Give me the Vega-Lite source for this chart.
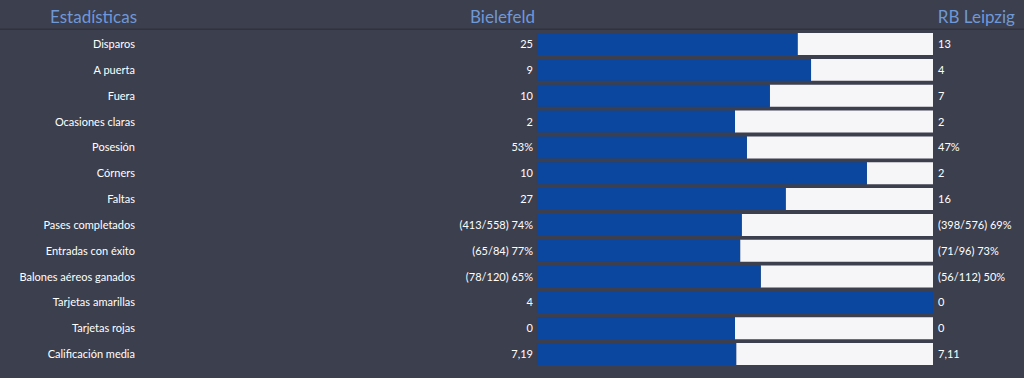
{
  "$schema": "https://vega.github.io/schema/vega-lite/v6.json",
  "width": 1024,
  "height": 378,
  "padding": 0,
  "autosize": {"type": "none"},
  "background": "#3c3f4e",
  "config": {"view": {"stroke": null}, "text": {"font": "Lato"}},
  "data": {
    "values": [
      {"stat": "Estadísticas", "home": "Bielefeld", "away": "RB Leipzig", "share": null, "header": true},
      {"stat": "Disparos", "home": "25", "away": "13", "share": 0.658, "header": false},
      {"stat": "A puerta", "home": "9", "away": "4", "share": 0.692, "header": false},
      {"stat": "Fuera", "home": "10", "away": "7", "share": 0.588, "header": false},
      {"stat": "Ocasiones claras", "home": "2", "away": "2", "share": 0.5, "header": false},
      {"stat": "Posesión", "home": "53%", "away": "47%", "share": 0.53, "header": false},
      {"stat": "Córners", "home": "10", "away": "2", "share": 0.833, "header": false},
      {"stat": "Faltas", "home": "27", "away": "16", "share": 0.628, "header": false},
      {"stat": "Pases completados", "home": "(413/558) 74%", "away": "(398/576) 69%", "share": 0.517, "header": false},
      {"stat": "Entradas con éxito", "home": "(65/84) 77%", "away": "(71/96) 73%", "share": 0.513, "header": false},
      {"stat": "Balones aéreos ganados", "home": "(78/120) 65%", "away": "(56/112) 50%", "share": 0.565, "header": false},
      {"stat": "Tarjetas amarillas", "home": "4", "away": "0", "share": 1.0, "header": false},
      {"stat": "Tarjetas rojas", "home": "0", "away": "0", "share": 0.5, "header": false},
      {"stat": "Calificación media", "home": "7,19", "away": "7,11", "share": 0.503, "header": false}
    ]
  },
  "layer": [
    {
      "transform": [{"filter": "!datum.header"}],
      "mark": {"type": "bar", "color": "#f6f6f8"},
      "encoding": {
        "y": {
          "field": "stat",
          "type": "nominal",
          "sort": null,
          "axis": null,
          "scale": {
            "domain": ["Estadísticas", "Disparos", "A puerta", "Fuera", "Ocasiones claras", "Posesión", "Córners", "Faltas", "Pases completados", "Entradas con éxito", "Balones aéreos ganados", "Tarjetas amarillas", "Tarjetas rojas", "Calificación media"],
            "range": [5.3, 367],
            "paddingInner": 0.15,
            "paddingOuter": 0.075
          }
        },
        "x": {"field": "share", "type": "quantitative", "axis": null, "scale": {"domain": [-1.35606, 1.2298], "nice": false, "zero": false}},
        "x2": {"datum": 1}
      }
    },
    {
      "transform": [{"filter": "!datum.header"}],
      "mark": {"type": "bar", "color": "#0b479e"},
      "encoding": {
        "y": {"field": "stat", "type": "nominal"},
        "x": {"field": "share", "type": "quantitative"},
        "x2": {"datum": 0}
      }
    },
    {
      "data": {"values": [{"stat": "Estadísticas"}]},
      "mark": {"type": "rule", "color": "#30323e", "strokeWidth": 1.5},
      "encoding": {
        "y": {"field": "stat", "type": "nominal", "bandPosition": 1}
      }
    },
    {
      "transform": [{"filter": "!datum.header"}],
      "mark": {"type": "text", "align": "right", "baseline": "middle", "fontSize": 11, "color": "#ffffff", "dy": 1},
      "encoding": {
        "y": {"field": "stat", "type": "nominal"},
        "x": {"datum": -1.0152, "type": "quantitative"},
        "text": {"field": "stat"}
      }
    },
    {
      "transform": [{"filter": "!datum.header"}],
      "mark": {"type": "text", "align": "right", "baseline": "middle", "fontSize": 11, "color": "#ffffff", "dx": -4, "dy": 1},
      "encoding": {
        "y": {"field": "stat", "type": "nominal"},
        "x": {"datum": 0, "type": "quantitative"},
        "text": {"field": "home"}
      }
    },
    {
      "transform": [{"filter": "!datum.header"}],
      "mark": {"type": "text", "align": "left", "baseline": "middle", "fontSize": 11, "color": "#ffffff", "dx": 5, "dy": 1},
      "encoding": {
        "y": {"field": "stat", "type": "nominal"},
        "x": {"datum": 1, "type": "quantitative"},
        "text": {"field": "away"}
      }
    },
    {
      "transform": [{"filter": "datum.header"}],
      "mark": {"type": "text", "align": "right", "baseline": "middle", "fontSize": 17, "color": "#6f98d8"},
      "encoding": {
        "y": {"field": "stat", "type": "nominal"},
        "x": {"datum": -1.0101, "type": "quantitative"},
        "text": {"field": "stat"}
      }
    },
    {
      "transform": [{"filter": "datum.header"}],
      "mark": {"type": "text", "align": "right", "baseline": "middle", "fontSize": 17, "color": "#6f98d8"},
      "encoding": {
        "y": {"field": "stat", "type": "nominal"},
        "x": {"datum": -0.005, "type": "quantitative"},
        "text": {"field": "home"}
      }
    },
    {
      "transform": [{"filter": "datum.header"}],
      "mark": {"type": "text", "align": "right", "baseline": "middle", "fontSize": 17, "color": "#6f98d8"},
      "encoding": {
        "y": {"field": "stat", "type": "nominal"},
        "x": {"datum": 1.207, "type": "quantitative"},
        "text": {"field": "away"}
      }
    }
  ]
}
